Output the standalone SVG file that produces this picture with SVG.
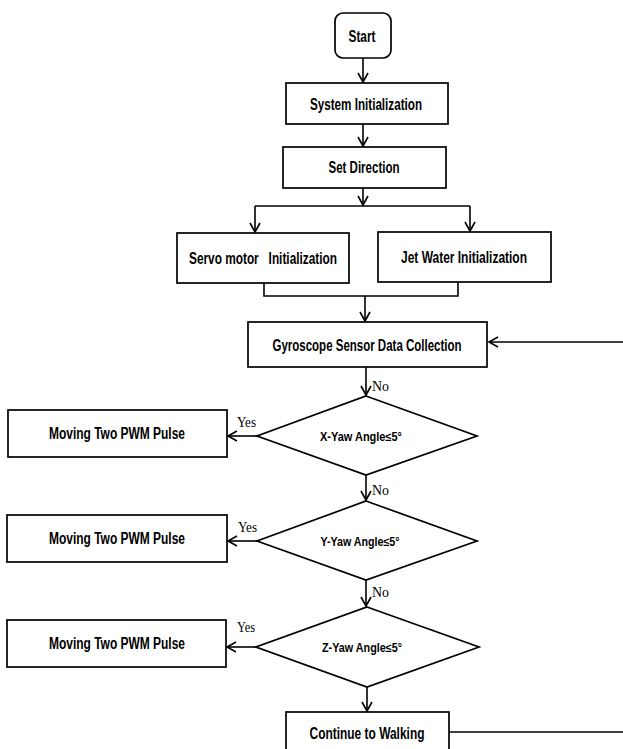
<svg xmlns="http://www.w3.org/2000/svg" width="623" height="749" viewBox="0 0 623 749">
<style>
.box{fill:#fff;stroke:#000;stroke-width:1.7}
.ln{fill:none;stroke:#000;stroke-width:1.6}
.t{font-family:"Liberation Sans",Arial,sans-serif;font-weight:bold;font-size:16px;fill:#000;text-anchor:middle;white-space:pre}
.d{font-family:"Liberation Sans",Arial,sans-serif;font-weight:bold;font-size:12px;fill:#000;text-anchor:middle}
.lb{font-family:"Liberation Serif","Times New Roman",serif;font-size:15px;fill:#000}
</style>
<defs>
<marker id="ah" markerUnits="userSpaceOnUse" markerWidth="12" markerHeight="12" viewBox="0 0 12 12" refX="10" refY="6" orient="auto">
<path d="M1,1 L10,6 L1,11" fill="none" stroke="#000" stroke-width="1.6"/>
</marker>
</defs>
<rect width="623" height="749" fill="#fff"/>
<g id="connectors">
<path class="ln" d="M363,58 V82" marker-end="url(#ah)"/>
<path class="ln" d="M363,124 V146" marker-end="url(#ah)"/>
<path class="ln" d="M363,188 V205" marker-end="url(#ah)"/>
<path class="ln" d="M255,206 H470"/>
<path class="ln" d="M255,206 V232" marker-end="url(#ah)"/>
<path class="ln" d="M470,206 V231" marker-end="url(#ah)"/>
<path class="ln" d="M264,283 V296 H458 V282"/>
<path class="ln" d="M365,296 V321" marker-end="url(#ah)"/>
<path class="ln" d="M623,342 H489" marker-end="url(#ah)"/>
<path class="ln" d="M366,367 V395" marker-end="url(#ah)"/>
<path class="ln" d="M257,436 H228" marker-end="url(#ah)"/>
<path class="ln" d="M366,475 V500" marker-end="url(#ah)"/>
<path class="ln" d="M257,541 H228" marker-end="url(#ah)"/>
<path class="ln" d="M366,580 V606" marker-end="url(#ah)"/>
<path class="ln" d="M256,647 H227" marker-end="url(#ah)"/>
<path class="ln" d="M367,687 V711" marker-end="url(#ah)"/>
<path class="ln" d="M449,732 H623"/>
<text class="lb" x="372" y="391" textLength="17" lengthAdjust="spacingAndGlyphs">No</text>
<text class="lb" x="372" y="495" textLength="17" lengthAdjust="spacingAndGlyphs">No</text>
<text class="lb" x="372" y="597" textLength="17" lengthAdjust="spacingAndGlyphs">No</text>
<text class="lb" x="237" y="427" textLength="19" lengthAdjust="spacingAndGlyphs">Yes</text>
<text class="lb" x="238" y="532" textLength="19" lengthAdjust="spacingAndGlyphs">Yes</text>
<text class="lb" x="237" y="632" textLength="18" lengthAdjust="spacingAndGlyphs">Yes</text>
</g>
<g id="start">
<rect class="box" x="335" y="13" width="56" height="45" rx="8"/>
<text class="t" x="362" y="42" textLength="27" lengthAdjust="spacingAndGlyphs">Start</text>
</g>
<g id="sysinit">
<rect class="box" x="286" y="83" width="162" height="41"/>
<text class="t" x="366" y="110" textLength="112" lengthAdjust="spacingAndGlyphs">System Initialization</text>
</g>
<g id="setdir">
<rect class="box" x="283" y="147" width="163" height="41"/>
<text class="t" x="364" y="173" textLength="71" lengthAdjust="spacingAndGlyphs">Set Direction</text>
</g>
<g id="servo">
<rect class="box" x="177" y="233" width="172" height="50"/>
<text class="t" x="263" y="264" textLength="148" lengthAdjust="spacingAndGlyphs">Servo motor   Initialization</text>
</g>
<g id="jet">
<rect class="box" x="378" y="232" width="173" height="50"/>
<text class="t" x="464" y="263" textLength="126" lengthAdjust="spacingAndGlyphs">Jet Water Initialization</text>
</g>
<g id="gyro">
<rect class="box" x="248" y="322" width="239" height="45"/>
<text class="t" x="367" y="351" textLength="189" lengthAdjust="spacingAndGlyphs">Gyroscope Sensor Data Collection</text>
</g>
<g id="xyaw">
<polygon class="box" points="366,396 477,436 366,475 257,436"/>
<text class="d" x="361" y="441" textLength="82" lengthAdjust="spacingAndGlyphs">X-Yaw Angle≤5°</text>
</g>
<g id="move1">
<rect class="box" x="8" y="410" width="219" height="47"/>
<text class="t" x="117" y="439" textLength="136" lengthAdjust="spacingAndGlyphs">Moving Two PWM Pulse</text>
</g>
<g id="yyaw">
<polygon class="box" points="366,501 477,541 366,580 257,541"/>
<text class="d" x="360" y="546" textLength="79" lengthAdjust="spacingAndGlyphs">Y-Yaw Angle≤5°</text>
</g>
<g id="move2">
<rect class="box" x="7" y="515" width="220" height="47"/>
<text class="t" x="117" y="544" textLength="136" lengthAdjust="spacingAndGlyphs">Moving Two PWM Pulse</text>
</g>
<g id="zyaw">
<polygon class="box" points="367,607 479,647 367,687 256,647"/>
<text class="d" x="362" y="652" textLength="80" lengthAdjust="spacingAndGlyphs">Z-Yaw Angle≤5°</text>
</g>
<g id="move3">
<rect class="box" x="7" y="620" width="219" height="47"/>
<text class="t" x="117" y="649" textLength="136" lengthAdjust="spacingAndGlyphs">Moving Two PWM Pulse</text>
</g>
<g id="continue">
<rect class="box" x="286" y="712" width="163" height="50"/>
<text class="t" x="367" y="739" textLength="115" lengthAdjust="spacingAndGlyphs">Continue to Walking</text>
</g>
</svg>
